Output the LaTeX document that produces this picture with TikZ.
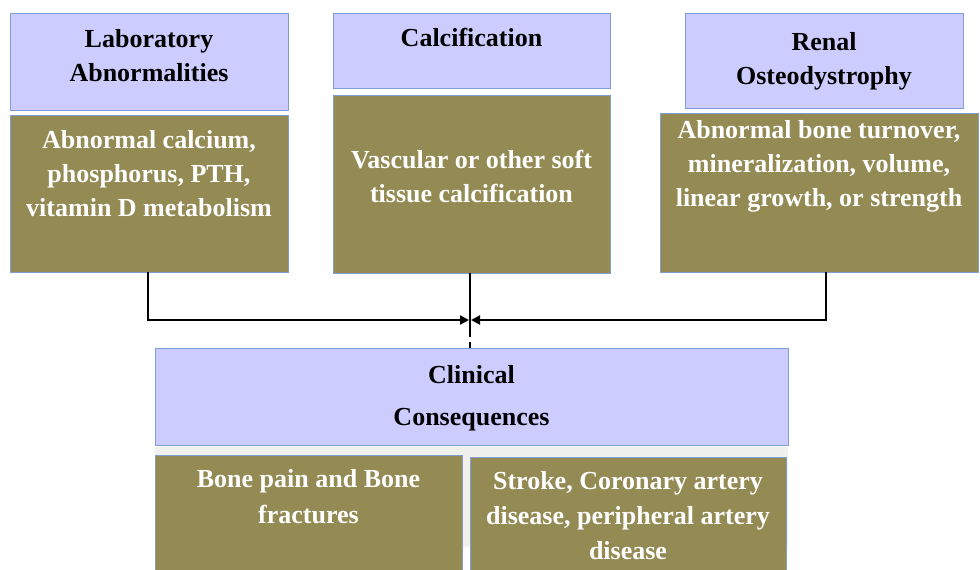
\documentclass[tikz,border=0pt]{standalone}
\usepackage{fontspec}
\setmainfont{Liberation Serif}
\usetikzlibrary{arrows.meta}
\definecolor{hdrfill}{HTML}{CCCCFF}
\definecolor{bodyfill}{HTML}{948A54}
\definecolor{edgeblue}{HTML}{7F9FD4}
\definecolor{bandgray}{HTML}{F0F0EC}
\begin{document}
\begin{tikzpicture}[x=1pt,y=-1pt,
  hdrbox/.style={draw=edgeblue,line width=1pt,fill=hdrfill,inner sep=0pt,outer sep=0pt},
  bodybox/.style={draw=edgeblue,line width=1pt,fill=bodyfill,inner sep=0pt,outer sep=0pt},
  hdrtext/.style={anchor=north,inner sep=0pt,align=center,font=\fontsize{26}{34}\selectfont\bfseries,text=black},
  bodytext/.style={anchor=north,inner sep=0pt,align=center,font=\fontsize{26}{34}\selectfont\bfseries,text=white},
  conn/.style={line width=2pt,draw=black},
  tip/.style={-{Triangle[length=9pt,width=9pt]}}
]
\useasboundingbox (0,0) rectangle (980,570);
\fill[white] (0,0) rectangle (980,570);
% band behind bottom boxes
\fill[bandgray] (155,447) rectangle (788,547);
% top row
\node[hdrbox,minimum width=278pt,minimum height=97pt] (h1) at (149,61.5) {};
\node[bodybox,minimum width=278pt,minimum height=157pt] (b1) at (149,193.5) {};
\node[hdrbox,minimum width=277pt,minimum height=75pt] (h2) at (471.5,50.5) {};
\node[bodybox,minimum width=277pt,minimum height=178pt] (b2) at (471.5,184) {};
\node[hdrbox,minimum width=278pt,minimum height=95pt] (h3) at (824,60.5) {};
\node[bodybox,minimum width=318pt,minimum height=159pt] (b3) at (819,192.5) {};
% bottom
\node[hdrbox,minimum width=633pt,minimum height=97pt] (h4) at (471.5,396.5) {};
\node[bodybox,minimum width=307pt,minimum height=117pt] (b4) at (308.5,513.5) {};
\node[bodybox,minimum width=316pt,minimum height=115pt] (b5) at (628,514.5) {};
% texts
\node[hdrtext] (t1) at (149,29) {Laboratory\\Abnormalities};
\node[bodytext] (u1) at (149,130) {Abnormal calcium,\\phosphorus, PTH,\\vitamin D metabolism};
\node[hdrtext] (t2) at (471.5,28) {Calcification};
\node[bodytext] (u2) at (471.5,150) {Vascular or other soft\\tissue calcification};
\node[hdrtext] (t3) at (824,32) {Renal\\Osteodystrophy};
\node[bodytext] (u3) at (819,120) {Abnormal bone turnover,\\mineralization, volume,\\linear growth, or strength};
\node[hdrtext,font=\fontsize{26}{42}\selectfont\bfseries] (t4) at (471.5,365) {Clinical\\Consequences};
\node[bodytext,font=\fontsize{26}{36}\selectfont\bfseries] (u4) at (308.5,469) {Bone pain and Bone\\fractures};
\node[bodytext,font=\fontsize{26}{35}\selectfont\bfseries] (u5) at (628,471) {Stroke, Coronary artery\\disease, peripheral artery\\disease};
% connectors
\coordinate (m) at (470,320);
\coordinate (gapA) at (470,337);
\coordinate (gapB) at (470,342);
\draw[conn,tip] (148,272) |- ([xshift=-1pt]m);
\draw[conn,tip] (826,272) |- ([xshift=1pt]m);
\draw[line width=1.5pt] (b2.south -| m) -- (gapA);
\draw[line width=1.5pt] (gapB) -- (h4.north -| m);
\end{tikzpicture}
\end{document}
